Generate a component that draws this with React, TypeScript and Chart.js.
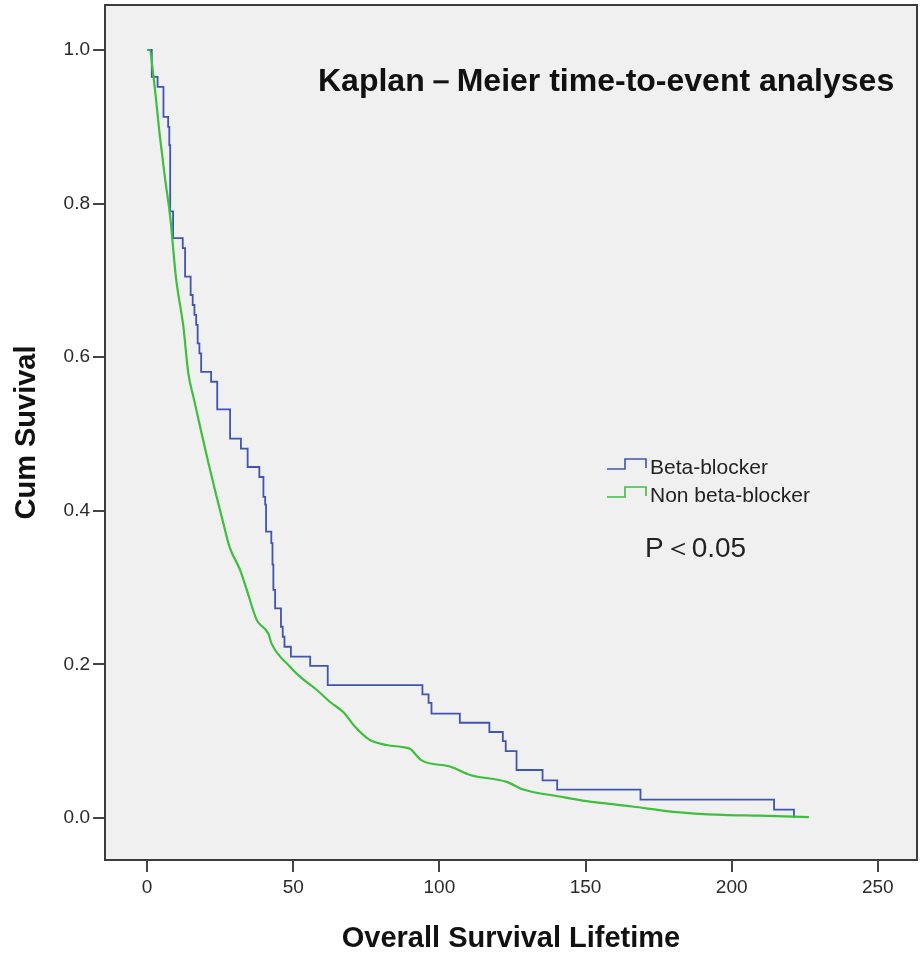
import React, { useEffect, useRef } from 'react';
import { Chart, registerables } from 'chart.js';

Chart.register(...registerables);

// ---------- data ----------
const seriesNames = ['Beta-blocker', 'Non beta-blocker'];
const xTickValues = [0, 50, 100, 150, 200, 250];
const yTickValues = [0, 0.2, 0.4, 0.6, 0.8, 1.0];

const betaTime = [0, 1.6, 3.6, 5.6, 7.2, 7.6, 7.9, 8.9, 12.2, 13.0, 14.9, 15.6, 16.2, 16.8, 17.3, 17.9, 18.5, 21.9, 24.0, 28.4, 32.1, 34.4, 38.4, 39.8, 40.4, 40.7, 42.5, 42.9, 43.2, 43.8, 45.8, 46.4, 47.0, 49.2, 55.8, 61.8, 94.2, 96.3, 97.3, 107.0, 117.1, 121.7, 122.7, 126.4, 135.3, 140.3, 168.8, 214.5, 221.3];
const betaSurv = [1.0, 0.965, 0.952, 0.913, 0.90, 0.876, 0.79, 0.755, 0.742, 0.705, 0.681, 0.668, 0.655, 0.642, 0.618, 0.605, 0.581, 0.568, 0.532, 0.494, 0.481, 0.457, 0.444, 0.418, 0.408, 0.373, 0.358, 0.33, 0.297, 0.273, 0.249, 0.236, 0.223, 0.21, 0.198, 0.173, 0.161, 0.15, 0.136, 0.124, 0.112, 0.100, 0.087, 0.0625, 0.049, 0.037, 0.024, 0.011, 0.0];

const nonTime = [0, 0.8, 2.2, 4.4, 6.2, 7.9, 9.9, 12.4, 14.1, 15.8, 18.7, 21.0, 23.8, 26.0, 28.2, 31.8, 34.1, 37.5, 41.5, 42.6, 48.9, 52.3, 58.0, 62.6, 67.1, 71.1, 76.0, 82.0, 88.0, 90.0, 93.9, 103.6, 110.5, 123.0, 128.7, 141.2, 150.4, 166.0, 180.0, 197.0, 209.6, 226.4];
const nonSurv = [1.0, 1.0, 0.965, 0.887, 0.831, 0.783, 0.703, 0.64, 0.579, 0.549, 0.50, 0.462, 0.418, 0.385, 0.353, 0.323, 0.297, 0.258, 0.24, 0.227, 0.197, 0.184, 0.167, 0.151, 0.138, 0.119, 0.102, 0.095, 0.092, 0.090, 0.075, 0.067, 0.056, 0.047, 0.037, 0.028, 0.022, 0.015, 0.008, 0.004, 0.003, 0.001];

const titleText = 'Kaplan－Meier time-to-event analyses';
const pValueText = 'P＜0.05';
const xAxisTitle = 'Overall Survival Lifetime';
const yAxisTitle = 'Cum Suvival';

const BLUE = '#4054b2';
const GREEN = '#3dbf3d';
const FONT = "'Liberation Sans', Arial, Helvetica, sans-serif";

const decorPlugin = {
  id: 'decor',
  beforeDraw(chart: any) {
    const { ctx, chartArea: a } = chart;
    ctx.save();
    ctx.fillStyle = '#f0f0f0';
    ctx.fillRect(a.left, a.top, a.right - a.left, a.bottom - a.top);
    ctx.restore();
  },
  afterDraw(chart: any) {
    const { ctx, chartArea: a } = chart;
    ctx.save();
    // frame
    ctx.strokeStyle = '#3c3c3c';
    ctx.lineWidth = 2;
    ctx.strokeRect(a.left, a.top, a.right - a.left, a.bottom - a.top);

    // title
    ctx.fillStyle = '#111';
    ctx.font = `bold 32px ${FONT}`;
    ctx.textBaseline = 'alphabetic';
    ctx.textAlign = 'left';
    ctx.fillText(titleText, a.left + 213, a.top + 86);

    // legend
    const lx = a.left + 502;
    const rows = [a.top + 464, a.top + 492];
    const cols = [BLUE, GREEN];
    ctx.font = `21px ${FONT}`;
    rows.forEach((y, i) => {
      ctx.strokeStyle = cols[i];
      ctx.lineWidth = 1.6;
      ctx.beginPath();
      ctx.moveTo(lx, y);
      ctx.lineTo(lx + 18, y);
      ctx.lineTo(lx + 18, y - 10);
      ctx.lineTo(lx + 39, y - 10);
      ctx.lineTo(lx + 39, y - 1);
      ctx.stroke();
      ctx.fillStyle = '#222';
      ctx.fillText(seriesNames[i], lx + 43, y + 5);
    });

    // p value
    ctx.font = `28px ${FONT}`;
    ctx.fillStyle = '#222';
    ctx.fillText(pValueText, a.left + 540, a.top + 552);
    ctx.restore();
  },
};

export default function App() {
  const ref = useRef<HTMLCanvasElement | null>(null);

  useEffect(() => {
    if (!ref.current) return;
    const chart = new Chart(ref.current, {
      type: 'line',
      data: {
        datasets: [
          {
            label: seriesNames[1],
            data: nonTime.map((t, i) => ({ x: t, y: nonSurv[i] })),
            borderColor: GREEN,
            borderWidth: 2.2,
            pointRadius: 0,
            cubicInterpolationMode: 'monotone',
            fill: false,
            order: 0,
          },
          {
            label: seriesNames[0],
            data: betaTime.map((t, i) => ({ x: t, y: betaSurv[i] })),
            borderColor: BLUE,
            borderWidth: 1.8,
            pointRadius: 0,
            stepped: 'before',
            fill: false,
            order: 1,
          },
        ],
      },
      options: {
        animation: false,
        responsive: false,
        events: [],
        layout: { padding: { left: 0, top: 5, right: 4, bottom: 0 } },
        plugins: { legend: { display: false }, tooltip: { enabled: false } },
        scales: {
          x: {
            type: 'linear',
            min: -14.4,
            max: 263.4,
            afterBuildTicks: (s: any) => {
              s.ticks = xTickValues.map((v) => ({ value: v }));
            },
            afterFit: (s: any) => {
              s.height = 98;
              s.paddingLeft = 0;
              s.paddingRight = 0;
            },
            ticks: {
              autoSkip: false,
              maxRotation: 0,
              padding: 4,
              color: '#2a2a2a',
              font: { family: FONT, size: 19 },
              callback: (v: any) => String(v),
            },
            grid: {
              drawOnChartArea: false,
              drawTicks: true,
              tickLength: 12,
              color: '#444',
              lineWidth: 2,
            },
            border: { display: false },
            title: {
              display: true,
              text: xAxisTitle,
              color: '#111',
              font: { family: FONT, size: 29, weight: 'bold' },
              padding: { top: 0, bottom: 2 },
            },
          },
          y: {
            type: 'linear',
            min: -0.0547,
            max: 1.0586,
            afterBuildTicks: (s: any) => {
              s.ticks = yTickValues.map((v) => ({ value: v }));
            },
            afterFit: (s: any) => {
              s.width = 105;
              s.paddingTop = 0;
              s.paddingBottom = 0;
            },
            ticks: {
              autoSkip: false,
              padding: 3,
              color: '#2a2a2a',
              font: { family: FONT, size: 19 },
              callback: (v: any) => Number(v).toFixed(1),
            },
            grid: {
              drawOnChartArea: false,
              drawTicks: true,
              tickLength: 12,
              color: '#444',
              lineWidth: 2,
            },
            border: { display: false },
            title: {
              display: true,
              text: yAxisTitle,
              color: '#111',
              font: { family: FONT, size: 29, weight: 'bold' },
              padding: { top: 10, bottom: 0 },
            },
          },
        },
      },
      plugins: [decorPlugin],
    } as any);
    return () => chart.destroy();
  }, []);

  return (
    <div style={{ position: 'absolute', left: 0, top: 0, width: 921, height: 958, background: '#fff' }}>
      <canvas ref={ref} width={921} height={958} style={{ display: 'block' }} />
    </div>
  );
}
